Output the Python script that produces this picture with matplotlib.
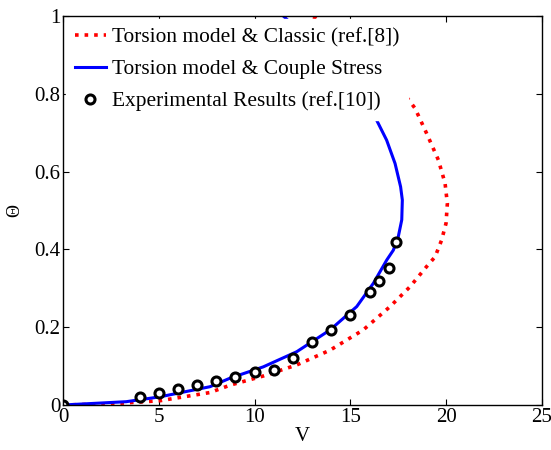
import matplotlib
matplotlib.use("Agg")
import matplotlib.pyplot as plt

plt.rcParams['font.family'] = ['Liberation Serif', 'DejaVu Serif']

# Torsion model & Classic (ref.[8])  -- V vs Theta
v_classic = [0, 2.5, 5.06, 7.67, 8.72, 10.45, 12.2, 13.94, 15.67, 17.07, 18.11, 18.98, 19.42, 19.76,
             19.99, 20.06, 19.94, 19.59, 18.98, 18.37, 17.5, 16.2, 14.7, 13.0]
th_classic = [0, 0.003, 0.011, 0.032, 0.051, 0.0745, 0.103, 0.141, 0.193, 0.253, 0.304, 0.356, 0.381, 0.424,
              0.467, 0.518, 0.57, 0.63, 0.698, 0.763, 0.82, 0.89, 0.95, 1.0]

# Torsion model & Couple Stress
v_couple = [0, 3.3, 5.06, 7.67, 8.72, 10.45, 12.2, 13.94, 15.33, 16.2, 16.9, 17.24, 17.5, 17.68, 17.71,
            17.62, 17.33, 16.89, 16.28, 15.4, 14.2, 12.9, 11.5]
th_couple = [0, 0.0085, 0.021, 0.047, 0.069, 0.098, 0.137, 0.193, 0.253, 0.313, 0.373, 0.398, 0.433, 0.476, 0.527,
             0.561, 0.621, 0.681, 0.741, 0.8, 0.87, 0.935, 1.0]

# Experimental Results (ref.[10])
v_exp = [0, 4, 5, 6, 7, 8, 9, 10, 11, 12, 13, 14, 15, 16, 16.5, 17, 17.4]
th_exp = [0, 0.021, 0.03, 0.04, 0.051, 0.062, 0.072, 0.086, 0.091, 0.12, 0.161, 0.193, 0.231, 0.29, 0.32, 0.351, 0.42]

fig = plt.figure(figsize=(5.51, 4.5), dpi=100)
ax = fig.add_axes([0.1143, 0.1, 0.8694, 0.8644])

ax.plot(v_classic, th_classic, color='red', linestyle=':', linewidth=2.6,
        label='Torsion model & Classic (ref.[8])')
ax.plot(v_couple, th_couple, color='blue', linestyle='-', linewidth=2.2,
        label='Torsion model & Couple Stress')
ax.plot(v_exp, th_exp, linestyle='none', marker='o', markersize=6.5,
        markerfacecolor='white', markeredgecolor='black', markeredgewidth=2.2,
        label='Experimental Results (ref.[10])')

ax.set_xlim(0, 25)
ax.set_ylim(0, 1)
ax.set_xticks([0, 5, 10, 15, 20, 25])
ax.set_yticks([0, 0.2, 0.4, 0.6, 0.8, 1])
ax.set_yticklabels(['0', '0.2', '0.4', '0.6', '0.8', '1'])
ax.tick_params(direction='in', top=True, right=True, labelsize=15, length=4, width=0.8, pad=2)
for s in ax.spines.values():
    s.set_linewidth(1.0)

ax.set_xlabel('V', fontsize=15, labelpad=0)
ax.set_ylabel('Θ', fontsize=13, labelpad=8)

leg = ax.legend(loc='upper left', fontsize=15.4, frameon=True, fancybox=False,
                borderaxespad=0.15, handlelength=1.45, handletextpad=0.3,
                labelspacing=0.55, borderpad=0.4)
leg.get_frame().set_edgecolor('white')
leg.get_frame().set_facecolor('white')
leg.get_frame().set_alpha(1)

plt.savefig('out.png', dpi=100)
